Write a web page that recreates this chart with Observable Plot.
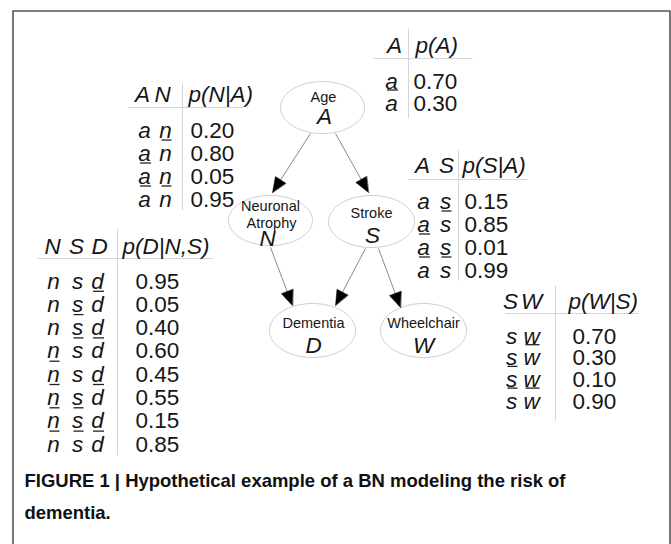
<!DOCTYPE html>
<html><head><meta charset="utf-8">
<script src="https://cdn.jsdelivr.net/npm/d3@7"></script>
<script src="https://cdn.jsdelivr.net/npm/@observablehq/plot@0.6"></script>
<style>
html,body{margin:0;padding:0;background:#fff;}
#chart svg{display:block;}
</style>
</head><body><div id="chart"></div>
<script>
// ---------------- DATA ----------------
const nodeIds      = ["A", "N", "S", "D", "W"];
const nodeNames    = [["Age"], ["Neuronal", "Atrophy"], ["Stroke"], ["Dementia"], ["Wheelchair"]];
const edgeFrom     = ["A", "A", "N", "S", "S"];
const edgeTo       = ["N", "S", "D", "D", "W"];

const cptA_vars  = ["A"];
const cptA_label = "p(A)";
const cptA_neg   = [[0], [1]];
const cptA_vals  = [0.70, 0.30];

const cptN_vars  = ["A", "N"];
const cptN_label = "p(N|A)";
const cptN_neg   = [[0,0],[0,1],[1,0],[1,1]];
const cptN_vals  = [0.20, 0.80, 0.05, 0.95];

const cptS_vars  = ["A", "S"];
const cptS_label = "p(S|A)";
const cptS_neg   = [[0,0],[0,1],[1,0],[1,1]];
const cptS_vals  = [0.15, 0.85, 0.01, 0.99];

const cptD_vars  = ["N", "S", "D"];
const cptD_label = "p(D|N,S)";
const cptD_neg   = [[0,0,0],[0,0,1],[0,1,0],[0,1,1],[1,0,0],[1,0,1],[1,1,0],[1,1,1]];
const cptD_vals  = [0.95, 0.05, 0.40, 0.60, 0.45, 0.55, 0.15, 0.85];

const cptW_vars  = ["S", "W"];
const cptW_label = "p(W|S)";
const cptW_neg   = [[0,0],[0,1],[1,0],[1,1]];
const cptW_vals  = [0.70, 0.30, 0.10, 0.90];

const captionLines = ["FIGURE 1 | Hypothetical example of a BN modeling the risk of", "dementia."];

// ---------------- LAYOUT (positions, sizes) ----------------
const W = 671, H = 544;
const nodeLayout = {
  A: {cx: 322, cy: 107, rx: 42, ry: 26, nameX: [323], nameY: [101], symX: 324, symY: 123},
  N: {cx: 270, cy: 220, rx: 42, ry: 25, nameX: [270, 271], nameY: [210, 227], symX: 267, symY: 245},
  S: {cx: 371, cy: 221, rx: 43, ry: 26, nameX: [371], nameY: [217], symX: 372, symY: 242},
  D: {cx: 312, cy: 330, rx: 43, ry: 27, nameX: [313], nameY: [327], symX: 313, symY: 352},
  W: {cx: 423, cy: 330, rx: 43, ry: 27, nameX: [423], nameY: [327], symX: 423, symY: 352}
};
// edge start points and arrow tips (graph layout)
const edgeLayout = [
  {x1: 310, y1: 133, x2: 272, y2: 192},
  {x1: 335, y1: 133, x2: 368, y2: 192},
  {x1: 270, y1: 247, x2: 292, y2: 305},
  {x1: 365, y1: 248, x2: 335, y2: 305},
  {x1: 378, y1: 248, x2: 400, y2: 307}
];
const tableLayout = {
  A: {hx: [394], rx: [391], probX: 415, valX: 413, headY: 52, row0: 88, step: 22,
      hline: [373, 472, 58], vline: [408, 28, 118]},
  N: {hx: [142, 162], rx: [144, 165], probX: 188, valX: 190, headY: 101, row0: 137, step: 23,
      hline: [128, 243, 107], vline: [182, 83, 210]},
  S: {hx: [422, 446], rx: [423, 445], probX: 462, valX: 464, headY: 172, row0: 208, step: 23,
      hline: [408, 527, 179], vline: [458, 150, 280]},
  D: {hx: [52, 76, 99], rx: [53, 77, 97], probX: 122, valX: 135, headY: 253, row0: 288, step: 23.3,
      hline: [37, 213, 258], vline: [117, 228, 455]},
  W: {hx: [510, 531], rx: [511, 531], probX: 568, valX: 572, headY: 308, row0: 343, step: 21.7,
      hline: [505, 638, 313], vline: [555, 285, 420]}
};
const barHalf = {a: 5.5, n: 5, s: 5, d: 5.5, w: 7};
const FONT = "'Liberation Sans', Arial, Helvetica, sans-serif";
const TXT = "#161616";
const FS = 22.5;

// ---------------- BUILD ----------------
const tables = [
  {id: "A", vars: cptA_vars, label: cptA_label, neg: cptA_neg, vals: cptA_vals},
  {id: "N", vars: cptN_vars, label: cptN_label, neg: cptN_neg, vals: cptN_vals},
  {id: "S", vars: cptS_vars, label: cptS_label, neg: cptS_neg, vals: cptS_vals},
  {id: "D", vars: cptD_vars, label: cptD_label, neg: cptD_neg, vals: cptD_vals},
  {id: "W", vars: cptW_vars, label: cptW_label, neg: cptW_neg, vals: cptW_vals}
];

const italicTexts = [], plainTexts = [], bars = [], gridLines = [];
for (const t of tables) {
  const L = tableLayout[t.id];
  t.vars.forEach((v, j) => italicTexts.push({x: L.hx[j], y: L.headY, text: v, anchor: "middle"}));
  italicTexts.push({x: L.probX, y: L.headY, text: t.label, anchor: "start"});
  t.neg.forEach((row, i) => {
    const yb = L.row0 + i * L.step;
    row.forEach((n, j) => {
      const letter = t.vars[j].toLowerCase();
      italicTexts.push({x: L.rx[j], y: yb, text: letter, anchor: "middle"});
      if (n) bars.push({x1: L.rx[j] + 1 - barHalf[letter], x2: L.rx[j] + 1 + barHalf[letter], y: yb - 20.5});
    });
    plainTexts.push({x: L.valX, y: yb, text: t.vals[i].toFixed(2)});
  });
  gridLines.push({x1: L.hline[0], x2: L.hline[1], y1: L.hline[2], y2: L.hline[2]});
  gridLines.push({x1: L.vline[0], x2: L.vline[0], y1: L.vline[1], y2: L.vline[2]});
}

// ellipses
const ellipsePts = [];
nodeIds.forEach(id => {
  const n = nodeLayout[id];
  for (let k = 0; k < 90; k++) {
    const a = 2 * Math.PI * k / 90;
    ellipsePts.push({id, x: n.cx + n.rx * Math.cos(a), y: n.cy + n.ry * Math.sin(a)});
  }
});
const nodeNameTexts = [], nodeSymTexts = [];
nodeIds.forEach((id, i) => {
  const n = nodeLayout[id];
  nodeNames[i].forEach((s, k) => nodeNameTexts.push({x: n.nameX[k], y: n.nameY[k], text: s}));
  nodeSymTexts.push({x: n.symX, y: n.symY, text: id});
});

// edges + arrowheads
const HL = 15, HW = 6.2;
const edgeLines = [], heads = [];
edgeFrom.forEach((f, i) => {
  const e = edgeLayout[i];
  const dx = e.x2 - e.x1, dy = e.y2 - e.y1, len = Math.hypot(dx, dy);
  const ux = dx / len, uy = dy / len;
  const bx = e.x2 - HL * ux, by = e.y2 - HL * uy;
  edgeLines.push({x1: e.x1, y1: e.y1, x2: bx + 2 * ux, y2: by + 2 * uy, id: f + edgeTo[i]});
  const id = f + edgeTo[i];
  heads.push({id, x: e.x2, y: e.y2});
  heads.push({id, x: bx - HW * uy, y: by + HW * ux});
  heads.push({id, x: bx + HW * uy, y: by - HW * ux});
});

const frame = [{x: 12.5, y: H}, {x: 12.5, y: 10.5}, {x: 669.5, y: 10.5}, {x: 669.5, y: H}];
const captionTexts = captionLines.map((s, i) => ({x: 24, y: 486 + i * 32, text: s}));

const chart = Plot.plot({
  width: W, height: H,
  margin: 0,
  x: {domain: [0, W], range: [0, W], axis: null},
  y: {domain: [0, H], range: [0, H], axis: null},
  style: {background: "#fff"},
  marks: [
    Plot.line(frame, {x: "x", y: "y", stroke: "#555", strokeWidth: 1.6}),
    Plot.link(gridLines, {x1: "x1", x2: "x2", y1: "y1", y2: "y2", stroke: "#d6d6d6", strokeWidth: 1}),
    Plot.line(ellipsePts, {x: "x", y: "y", z: "id", curve: "linear-closed", stroke: "#cfcfcf", strokeWidth: 1}),
    Plot.link(edgeLines, {x1: "x1", x2: "x2", y1: "y1", y2: "y2", stroke: "#8a8a8a", strokeWidth: 1}),
    Plot.line(heads, {x: "x", y: "y", z: "id", curve: "linear-closed", fill: "#000", stroke: "#000", strokeWidth: 0.5}),
    Plot.text(nodeNameTexts, {x: "x", y: "y", text: "text", fontSize: 14.5, fontFamily: FONT, fill: TXT, textAnchor: "middle", lineAnchor: "bottom"}),
    Plot.text(nodeSymTexts, {x: "x", y: "y", text: "text", fontSize: FS, fontStyle: "italic", fontFamily: FONT, fill: TXT, textAnchor: "middle", lineAnchor: "bottom"}),
    Plot.text(italicTexts.filter(d => d.anchor === "middle"), {x: "x", y: "y", text: "text", fontSize: FS, fontStyle: "italic", fontFamily: FONT, fill: TXT, textAnchor: "middle", lineAnchor: "bottom"}),
    Plot.text(italicTexts.filter(d => d.anchor === "start"), {x: "x", y: "y", text: "text", fontSize: FS, fontStyle: "italic", fontFamily: FONT, fill: TXT, textAnchor: "start", lineAnchor: "bottom"}),
    Plot.text(plainTexts, {x: "x", y: "y", text: "text", fontSize: FS, fontFamily: FONT, fill: TXT, textAnchor: "start", lineAnchor: "bottom"}),
    Plot.link(bars, {x1: "x1", x2: "x2", y1: "y", y2: "y", stroke: "#222", strokeWidth: 1.3}),
    Plot.text(captionTexts, {x: "x", y: "y", text: "text", fontSize: 18.5, fontWeight: "bold", fontFamily: "'Liberation Sans Narrow', 'Arial Narrow', 'Liberation Sans', sans-serif", fill: "#111", textAnchor: "start", lineAnchor: "bottom"})
  ]
});
document.getElementById("chart").appendChild(chart);

// condense caption to match the reference width of the first line
const capNodes = d3.select(chart).selectAll("text").filter(function () { return captionLines.includes(this.textContent); });
let ratio = 1;
capNodes.each(function () { if (this.textContent === captionLines[0]) ratio = (565 - 24) / this.getComputedTextLength(); });
capNodes.each(function () {
  const w = this.getComputedTextLength() * ratio;
  this.setAttribute("textLength", w);
  this.setAttribute("lengthAdjust", "spacingAndGlyphs");
});
</script>
</body></html>
